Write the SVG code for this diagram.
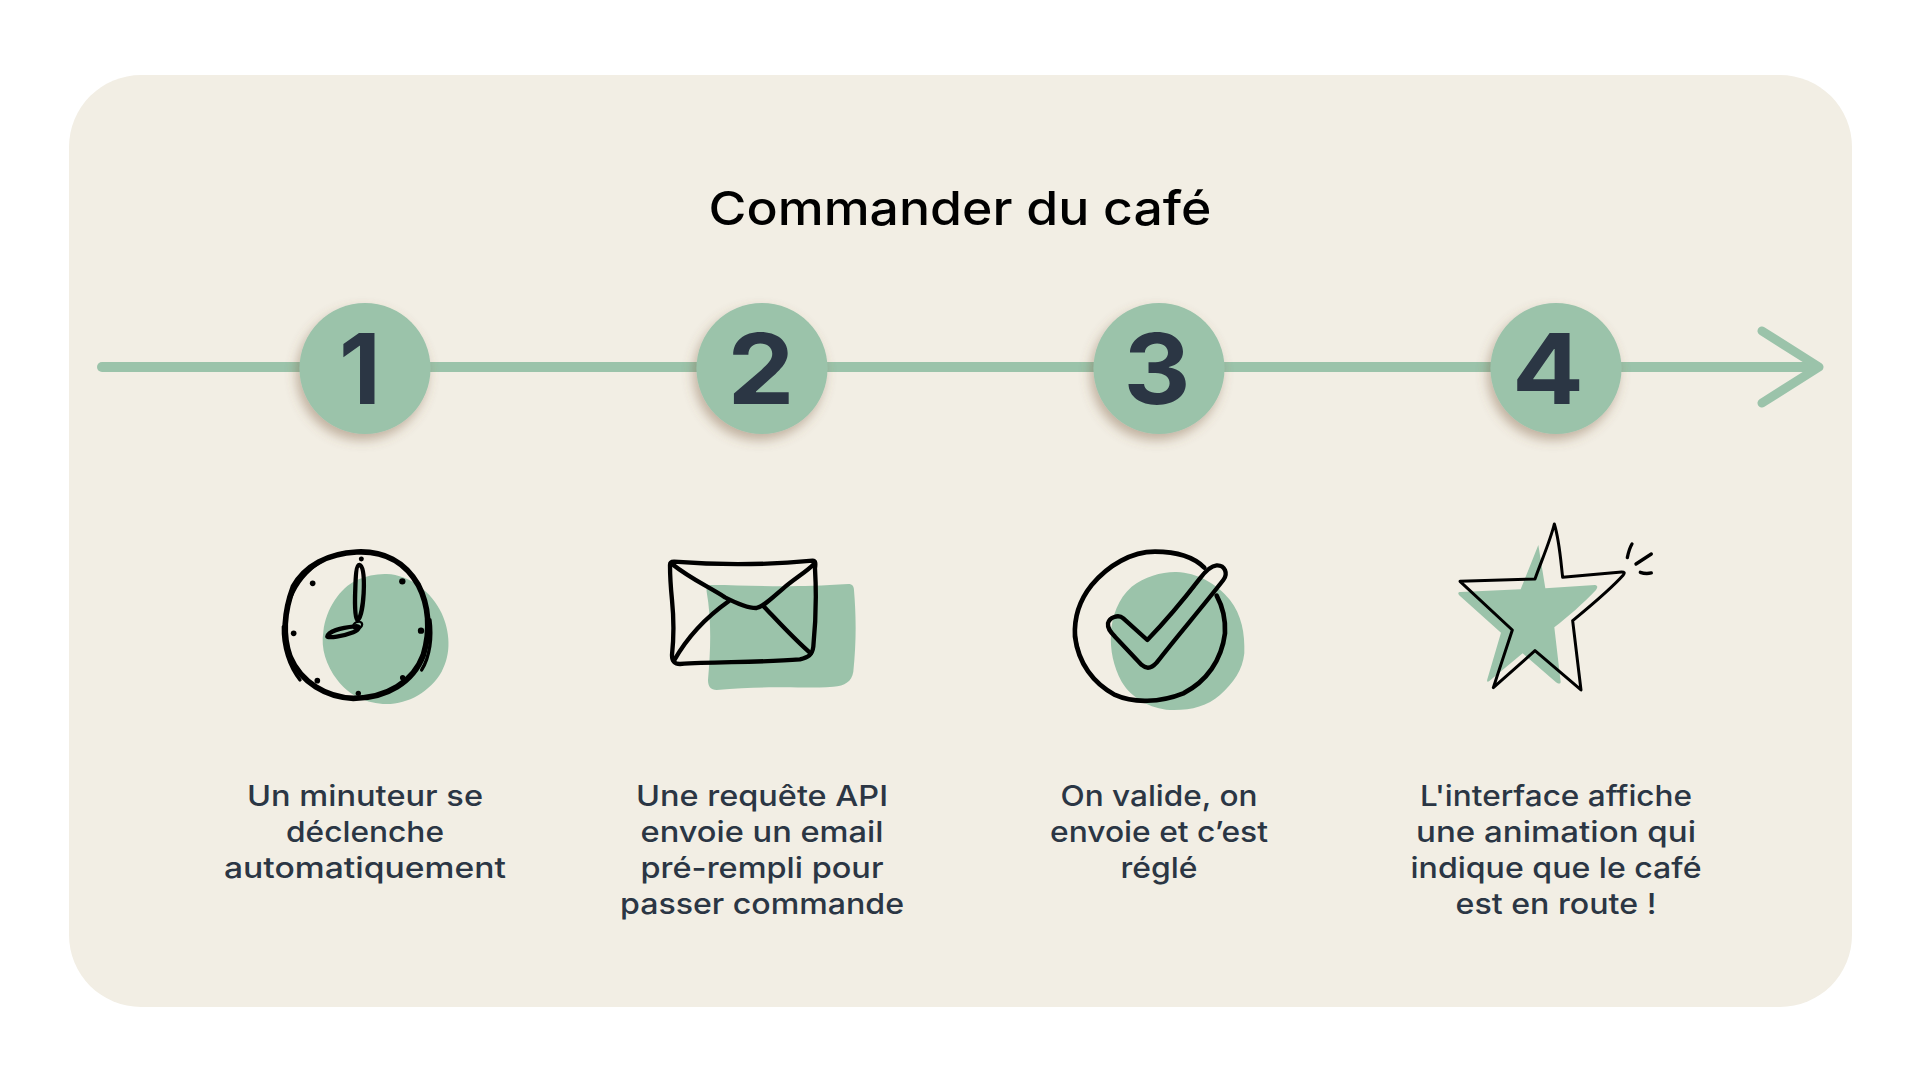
<svg xmlns="http://www.w3.org/2000/svg" width="1921" height="1081" viewBox="0 0 1921 1081">
<defs>
<filter id="sh" x="-30%" y="-30%" width="160%" height="160%"><feDropShadow dx="-3" dy="6" stdDeviation="6" flood-color="#7a5a40" flood-opacity=".42"/></filter>
</defs>
<style>
text{font-family:Inter,"Liberation Sans",sans-serif}
.t{font-size:29px;font-weight:450;fill:#2b3644;text-anchor:middle}
.title{font-size:47px;font-weight:450;fill:#000;text-anchor:middle}
.n{font-size:97px;font-weight:700;fill:#2b3644;text-anchor:middle}
.c{fill:#9bc3aa;filter:url(#sh)}
.g{fill:#9bc3aa}
.i{fill:none;stroke:#000;stroke-linecap:round;stroke-linejoin:round}
.d{fill:#000}
.a{fill:none;stroke:#9bc3aa;stroke-linecap:round;stroke-linejoin:round}
</style>
<rect width="1921" height="1081" fill="#fff"/>
<rect x="69" y="75" width="1783" height="932" rx="72" fill="#f2eee4"/>
<text class="title" x="960" y="225" textLength="503" lengthAdjust="spacingAndGlyphs">Commander du café</text>
<g id="connectors">
<path class="a" stroke-width="10" d="M102 367H1816"/>
<path class="a" stroke-width="9" d="M1762 331L1819 367L1762 403"/>
</g>
<g id="step1">
<circle class="c" cx="365" cy="368.500" r="65.500"/>
<text class="n" x="360" y="404">1</text>
<g transform="translate(250 520) scale(.3333)">
<path class="g" d="M410 162C480 165 545 215 575 280C600 335 605 400 575 455C540 515 475 552 410 552C350 552 295 525 262 480C228 435 212 385 220 335C228 265 270 205 320 180C350 167 380 161 410 162Z"/>
<path class="i" stroke-width="17" d="M320 96C400 92 465 125 505 195C536 255 543 330 520 405C490 486 410 535 310 535C230 532 153 488 120 410C97 345 104 270 130 200C165 137 235 100 320 96Z"/>
<path class="i" stroke-width="10" d="M108 285C123 190 195 110 290 98M100 320C98 380 118 440 150 480M540 300C547 350 540 410 515 450"/>
<path class="i" stroke-width="13" d="M328 135C342 137 343 180 341 220C339 255 332 298 322 300C315 298 314 250 316 205C317 170 319 135 328 135Z"/>
<path class="i" stroke-width="13" d="M232 350C234 335 270 323 315 319C333 317 328 330 310 337C280 349 234 355 232 350Z"/>
<ellipse class="i" stroke-width="7" cx="323" cy="316" rx="14" ry="10" transform="rotate(-25 323 316)"/>
<circle class="d" cx="334" cy="117" r="7.500"/><circle class="d" cx="457" cy="184" r="9.500"/><circle class="d" cx="513" cy="332" r="9.500"/><circle class="d" cx="458" cy="473" r="8"/><circle class="d" cx="325" cy="520" r="8"/><circle class="d" cx="202" cy="482" r="8.500"/><circle class="d" cx="131" cy="340" r="8.500"/><circle class="d" cx="188" cy="190" r="8.500"/>
</g>
<text class="t" x="365" y="806" textLength="236" lengthAdjust="spacingAndGlyphs">Un minuteur se</text>
<text class="t" x="365" y="842" textLength="158" lengthAdjust="spacingAndGlyphs">déclenche</text>
<text class="t" x="365" y="878" textLength="282" lengthAdjust="spacingAndGlyphs">automatiquement</text>
</g>
<g id="step2">
<circle class="c" cx="762" cy="368.500" r="65.500"/>
<text class="n" x="761" y="404" textLength="67" lengthAdjust="spacingAndGlyphs">2</text>
<g transform="translate(650 540) scale(.3333)">
<path class="g" d="M185 135C300 135 400 145 595 132C608 132 612 140 612 150C618 220 620 300 610 395C605 425 585 437 550 440C450 447 350 435 200 450C182 450 174 440 174 420C182 330 185 240 170 155C168 140 175 135 185 135Z"/>
<path class="i" stroke-width="13" d="M72 65C200 75 350 75 488 62C497 62 497 70 495 85C500 170 497 250 490 320C487 345 475 352 450 358C330 368 200 365 90 372C72 372 66 365 66 345C72 290 72 240 66 180C62 140 60 100 60 75C60 68 64 65 72 65Z"/>
<path class="i" stroke-width="13" d="M66 72C120 115 175 140 225 172C260 190 295 205 320 204C340 200 365 175 400 145C435 115 470 95 492 72M238 182C170 230 115 285 72 362M342 200C385 245 430 295 482 340"/>
</g>
<text class="t" x="762" y="806" textLength="252" lengthAdjust="spacingAndGlyphs">Une requête API</text>
<text class="t" x="762" y="842" textLength="243" lengthAdjust="spacingAndGlyphs">envoie un email</text>
<text class="t" x="762" y="878" textLength="243" lengthAdjust="spacingAndGlyphs">pré-rempli pour</text>
<text class="t" x="762" y="914" textLength="284" lengthAdjust="spacingAndGlyphs">passer commande</text>
</g>
<g id="step3">
<circle class="c" cx="1159" cy="368.500" r="65.500"/>
<text class="n" x="1157" y="404" textLength="67" lengthAdjust="spacingAndGlyphs">3</text>
<g transform="translate(1050 530) scale(.3333)">
<path class="g" d="M380 126C440 128 500 160 540 210C575 255 585 310 583 370C578 420 550 460 510 495C470 530 420 542 360 540C300 535 245 505 215 455C190 410 180 360 183 310C185 260 205 205 245 170C285 140 335 125 380 126Z"/>
<path class="i" stroke-width="14" d="M463 113C430 80 380 65 315 65C245 65 175 105 125 165C85 215 72 270 75 320C85 400 130 460 195 495C250 520 330 518 400 490C470 455 515 390 525 310C527 270 518 230 500 197"/>
<path class="i" stroke-width="6" d="M85 240C70 290 78 350 100 400M510 220C532 280 526 340 498 395"/>
<path class="i" stroke-width="13" d="M292 330L220 265C205 252 178 262 174 280C172 295 180 305 195 320L275 405C290 418 305 415 320 398C380 320 450 240 520 150C535 130 525 105 500 106C480 108 465 125 450 145C400 210 345 275 292 330Z"/>
<path class="i" stroke-width="4" d="M375 240C395 220 415 195 435 170"/>
</g>
<text class="t" x="1159" y="806" textLength="197" lengthAdjust="spacingAndGlyphs">On valide, on</text>
<text class="t" x="1159" y="842" textLength="218" lengthAdjust="spacingAndGlyphs">envoie et c’est</text>
<text class="t" x="1159" y="878" textLength="77" lengthAdjust="spacingAndGlyphs">réglé</text>
</g>
<g id="step4">
<circle class="c" cx="1556" cy="368.500" r="65.500"/>
<text class="n" x="1548" y="404" textLength="72" lengthAdjust="spacingAndGlyphs">4</text>
<g transform="translate(1440 510) scale(.3333)">
<path class="g" d="M295 105L316 235L465 225C473 226 474 232 468 240C430 280 385 320 343 352L362 515C362 523 355 522 348 517L248 430L148 513C142 518 140 514 142 508L183 368L60 258C52 250 54 246 62 246L242 238Z"/>
<path class="i" stroke-width="9" d="M343 42C330 95 305 150 285 207L60 214L217 360L160 533L285 422L423 540L398 332C455 285 510 240 550 195C555 188 553 186 545 186L368 202C362 150 358 90 343 42Z"/>
<path class="i" stroke-width="10" d="M576 102C570 112 565 128 562 143M634 132L588 162M601 187C612 191 625 191 634 189"/>
</g>
<text class="t" x="1556" y="806" textLength="272" lengthAdjust="spacingAndGlyphs">L'interface affiche</text>
<text class="t" x="1556" y="842" textLength="280" lengthAdjust="spacingAndGlyphs">une animation qui</text>
<text class="t" x="1556" y="878" textLength="291" lengthAdjust="spacingAndGlyphs">indique que le café</text>
<text class="t" x="1556" y="914" textLength="201" lengthAdjust="spacingAndGlyphs">est en route !</text>
</g>
</svg>
